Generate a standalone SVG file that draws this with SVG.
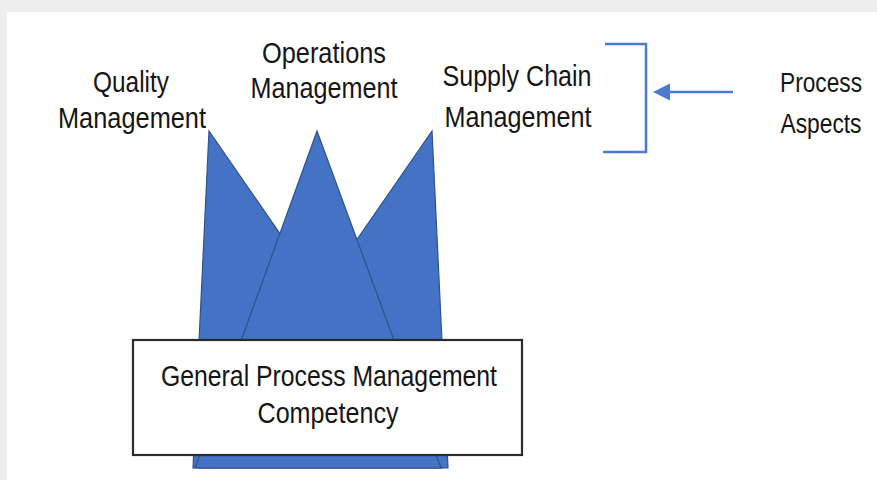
<svg xmlns="http://www.w3.org/2000/svg" width="877" height="480" viewBox="0 0 877 480">
  <defs>
    <style>
      .lbl { font-family: "Liberation Sans", Arial, sans-serif; font-size: 30px; fill: #151515; text-anchor: middle; }
      .side { font-size: 27px; }
      .peak { fill: #4472C4; stroke: #2F528F; stroke-width: 1.2; stroke-linejoin: miter; }
      .blue { stroke: #4A7BD0; stroke-width: 2.5; fill: none; }
      .head { fill: #4A7BD0; }
    </style>
  </defs>

  <!-- page frame -->
  <rect x="0" y="0" width="877" height="480" fill="#EEEEEE"/>
  <rect x="7" y="12" width="870" height="468" fill="#FFFFFF"/>

  <!-- crown of three process peaks -->
  <g id="quality-peak">
    <polygon class="peak" points="209,131 193,468 442,468"/>
  </g>
  <g id="supply-peak">
    <polygon class="peak" points="432,131 448,468 199,468"/>
  </g>
  <g id="operations-peak">
    <polygon class="peak" points="317,131 441,468 195,468"/>
  </g>

  <!-- base competency box -->
  <g id="general-competency">
    <rect x="133" y="340" width="389" height="115" fill="#FFFFFF" stroke="#2b2b2b" stroke-width="2.2"/>
    <text class="lbl" x="329" y="386" textLength="336" lengthAdjust="spacingAndGlyphs">General Process Management</text>
    <text class="lbl" x="328" y="423" textLength="141" lengthAdjust="spacingAndGlyphs">Competency</text>
  </g>

  <!-- peak labels -->
  <g id="quality-label">
    <text class="lbl" x="131" y="92" textLength="76" lengthAdjust="spacingAndGlyphs">Quality</text>
    <text class="lbl" x="132" y="128" textLength="148" lengthAdjust="spacingAndGlyphs">Management</text>
  </g>
  <g id="operations-label">
    <text class="lbl" x="324" y="63" textLength="124" lengthAdjust="spacingAndGlyphs">Operations</text>
    <text class="lbl" x="324" y="98" textLength="147" lengthAdjust="spacingAndGlyphs">Management</text>
  </g>
  <g id="supply-chain-label">
    <text class="lbl" x="517" y="86" textLength="149" lengthAdjust="spacingAndGlyphs">Supply Chain</text>
    <text class="lbl" x="518" y="127" textLength="147" lengthAdjust="spacingAndGlyphs">Management</text>
  </g>
  <g id="process-aspects">
    <text class="lbl side" x="821" y="92" textLength="82" lengthAdjust="spacingAndGlyphs">Process</text>
    <text class="lbl side" x="821" y="133" textLength="81" lengthAdjust="spacingAndGlyphs">Aspects</text>
  </g>

  <!-- connectors -->
  <g id="connectors">
    <polyline class="blue" points="605,44 646,44 646,152 603,152"/>
    <line class="blue" x1="733" y1="92" x2="666" y2="92"/>
    <polygon class="head" points="653,92 670,83.5 670,100.5"/>
  </g>
</svg>
